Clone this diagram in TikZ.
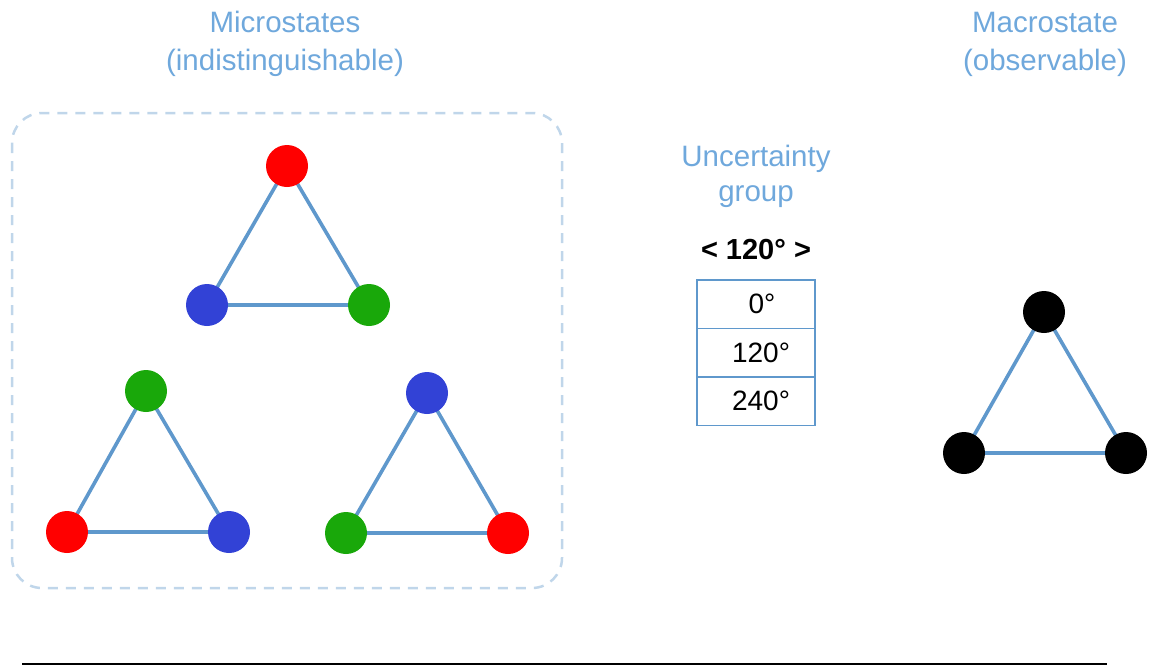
\documentclass[tikz,border=0pt]{standalone}
\usepackage{fontspec}
\setmainfont{Liberation Sans}
\definecolor{titleblue}{RGB}{111,168,220}
\definecolor{edgeblue}{RGB}{95,152,204}
\definecolor{dashblue}{RGB}{192,214,234}
\definecolor{ballred}{RGB}{255,0,0}
\definecolor{ballblue}{RGB}{50,66,214}
\definecolor{ballgreen}{RGB}{25,168,10}
\begin{document}
\begin{tikzpicture}[x=1pt,y=-1pt,
  ball/.style={circle,minimum size=42pt,inner sep=0pt},
  edge/.style={draw=edgeblue,line width=3.6pt},
  title/.style={text=titleblue,font=\fontsize{29.5}{38}\selectfont,align=center},
  cell/.style={draw=edgeblue,line width=1.3pt,minimum width=118pt,minimum height=48.5pt,font=\fontsize{28}{34}\selectfont,inner sep=0pt}
]
\useasboundingbox (0,0) rectangle (1151,667);

% titles
\node[title] (tmicro) at (285,44) {Microstates\\(indistinguishable)};
\node[title] (tmacro) at (1045,44) {Macrostate\\(observable)};
\node[title,font=\fontsize{29.5}{35}\selectfont] (tunc) at (756,176) {Uncertainty\\group};
\node[font=\fontsize{29}{35}\selectfont\bfseries] (gen) at (756,250) {< 120° >};

% table
\node[cell] (c0) at (756,304.25) {\hspace*{12pt}0°};
\node[cell] (c1) at (756,352.75) {\hspace*{10pt}120°};
\node[cell] (c2) at (756,401.25) {\hspace*{10pt}240°};

% dashed group box
\draw[dashblue,line width=2.5pt,dash pattern=on 10pt off 8pt,rounded corners=30pt] (12,113) rectangle (562,588);

% top triangle
\coordinate (atop) at (287,166);
\coordinate (aleft) at (207,305);
\coordinate (aright) at (369,305);
\draw[edge] (atop) -- (aleft) -- (aright) -- cycle;
\node[ball,fill=ballred] (a1) at (atop) {};
\node[ball,fill=ballblue] (a2) at (aleft) {};
\node[ball,fill=ballgreen] (a3) at (aright) {};

% bottom-left triangle
\coordinate (btop) at (146,391);
\coordinate (bleft) at (67,532);
\coordinate (bright) at (229,532);
\draw[edge] (btop) -- (bleft) -- (bright) -- cycle;
\node[ball,fill=ballgreen] (b1) at (btop) {};
\node[ball,fill=ballred] (b2) at (bleft) {};
\node[ball,fill=ballblue] (b3) at (bright) {};

% bottom-right triangle
\coordinate (ctop) at (427,393);
\coordinate (cleft) at (346,533);
\coordinate (cright) at (508,533);
\draw[edge] (ctop) -- (cleft) -- (cright) -- cycle;
\node[ball,fill=ballblue] (c1b) at (ctop) {};
\node[ball,fill=ballgreen] (c2b) at (cleft) {};
\node[ball,fill=ballred] (c3b) at (cright) {};

% macrostate triangle
\coordinate (mtop) at (1044,312);
\coordinate (mleft) at (964,453);
\coordinate (mright) at (1126,453);
\draw[edge] (mtop) -- (mleft) -- (mright) -- cycle;
\node[ball,fill=black] (m1) at (mtop) {};
\node[ball,fill=black] (m2) at (mleft) {};
\node[ball,fill=black] (m3) at (mright) {};

% bottom rule
\coordinate (l1) at (22,664);
\coordinate (l2) at (1107,664);
\draw[line width=1.2pt] (l1) -- (l2);
\end{tikzpicture}
\end{document}
